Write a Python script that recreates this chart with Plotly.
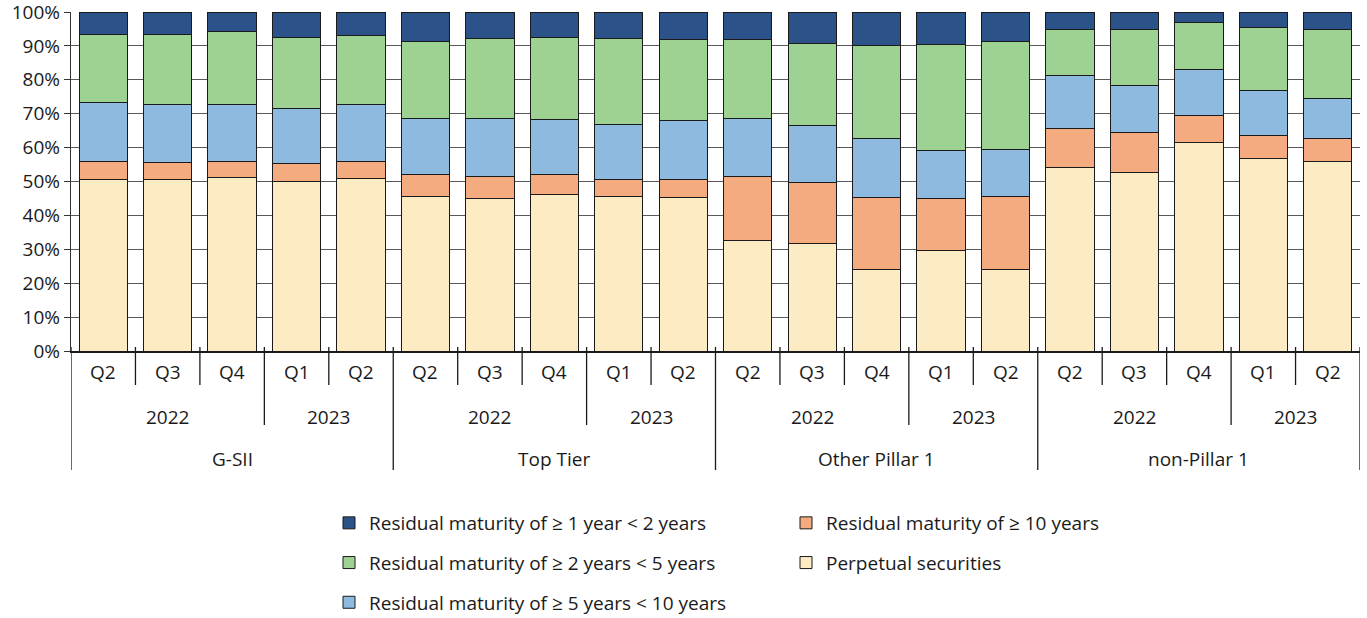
import plotly.graph_objects as go

groups = ["G-SII"] * 5 + ["Top Tier"] * 5 + ["Other Pillar 1"] * 5 + ["non-Pillar 1"] * 5
years = ["2022", "2022", "2022", "2023", "2023"] * 4
quarters = ["Q2", "Q3", "Q4", "Q1", "Q2"] * 4

perpetual = [50.6, 50.5, 51.1, 50.1, 50.9,
             45.7, 45.0, 46.2, 45.6, 45.4,
             32.7, 31.7, 24.0, 29.7, 24.1,
             54.2, 52.7, 61.6, 56.8, 55.8]
ge10 = [5.3, 5.1, 4.8, 5.1, 5.1,
        6.5, 6.5, 6.0, 5.1, 5.3,
        18.8, 18.0, 21.4, 15.4, 21.4,
        11.3, 11.8, 8.0, 6.7, 7.0]
y5_10 = [17.3, 17.1, 16.7, 16.3, 16.7,
         16.3, 17.1, 16.2, 16.2, 17.3,
         17.0, 16.8, 17.3, 14.0, 13.9,
         15.9, 13.7, 13.4, 13.3, 11.7]
y2_5 = [20.1, 20.8, 21.7, 21.0, 20.5,
        22.8, 23.6, 24.0, 25.4, 24.0,
        23.5, 24.1, 27.4, 31.2, 31.8,
        13.4, 16.6, 13.8, 18.5, 20.3]
y1_2 = [6.7, 6.5, 5.7, 7.5, 6.8,
        8.7, 7.8, 7.6, 7.7, 8.0,
        8.0, 9.4, 9.9, 9.7, 8.8,
        5.2, 5.2, 3.2, 4.7, 5.2]

y_ticks = [0, 10, 20, 30, 40, 50, 60, 70, 80, 90, 100]
y_ticktext = [f"{v}%" for v in y_ticks]

# (name, values, colour, legend, legend rank)
series = [
    ("Perpetual securities", perpetual, "#fdecc3", "legend2", 5),
    ("Residual maturity of \u2265 10 years", ge10, "#f4ab80", "legend2", 4),
    ("Residual maturity of \u2265 5 years < 10 years", y5_10, "#8fbae0", "legend", 3),
    ("Residual maturity of \u2265 2 years < 5 years", y2_5, "#9dd293", "legend", 2),
    ("Residual maturity of \u2265 1 year < 2 years", y1_2, "#2b5389", "legend", 1),
]

FONT = "Open Sans"
TXT = "#1a1a1a"
FS = 19
n = len(quarters)
xs = list(range(n))

fig = go.Figure()
for name, vals, col, leg, rank in series:
    fig.add_trace(go.Bar(
        x=xs, y=vals, name=name, legend=leg, legendgroup=name, legendrank=rank,
        marker=dict(color=col, line=dict(color="#1a1a1a", width=1)),
    ))

shapes = []
annotations = []

def px_to_paper(py):
    return (351 - py) / 339.0

yQ_bot = px_to_paper(385)
yY_bot = px_to_paper(425)
yG_bot = px_to_paper(470)
y_top_tick = px_to_paper(347)

line_style = dict(color="#1a1a1a", width=1.3)
for b in range(n + 1):
    xb = b - 0.5
    if b == 0 or b == n or groups[b] != groups[b - 1]:
        y1 = yG_bot
    elif years[b] != years[b - 1]:
        y1 = yY_bot
    else:
        y1 = yQ_bot
    shapes.append(dict(type="line", xref="x", yref="paper", x0=xb, x1=xb,
                       y0=y_top_tick, y1=y1, line=line_style))

lab_font = dict(size=FS, color=TXT, family=FONT)
for i, q in enumerate(quarters):
    annotations.append(dict(x=i, y=px_to_paper(372), xref="x", yref="paper",
                            xanchor="center", yanchor="middle",
                            text=q, showarrow=False, font=lab_font))

start = 0
for i in range(1, n + 1):
    if i == n or years[i] != years[start] or groups[i] != groups[start]:
        annotations.append(dict(x=(start + i - 1) / 2, y=px_to_paper(417), xref="x", yref="paper",
                                xanchor="center", yanchor="middle",
                                text=years[start], showarrow=False, font=lab_font))
        start = i
start = 0
for i in range(1, n + 1):
    if i == n or groups[i] != groups[start]:
        annotations.append(dict(x=(start + i - 1) / 2, y=px_to_paper(459), xref="x", yref="paper",
                                xanchor="center", yanchor="middle",
                                text=groups[start], showarrow=False, font=lab_font))
        start = i

legend_common = dict(
    orientation="v", yanchor="top", xanchor="left",
    font=dict(size=FS, color=TXT, family=FONT),
    bgcolor="rgba(0,0,0,0)", tracegroupgap=12, traceorder="grouped",
)

fig.update_layout(
    width=1367, height=618,
    margin=dict(l=71, r=7, t=12, b=267, autoexpand=False),
    paper_bgcolor="white", plot_bgcolor="white",
    barmode="stack", bargap=0.25,
    font=dict(family=FONT, size=FS, color=TXT),
    showlegend=True,
    legend=dict(x=(329 - 71) / 1289, y=px_to_paper(504), **legend_common),
    legend2=dict(x=(786 - 71) / 1289, y=px_to_paper(504), **legend_common),
    shapes=shapes,
    annotations=annotations,
    xaxis=dict(range=[-0.5, n - 0.5], showticklabels=False, ticks="",
               showgrid=False, zeroline=False, showline=True, automargin=False,
               linecolor="#1a1a1a", linewidth=2, fixedrange=True),
    yaxis=dict(range=[0, 100], tickmode="array", tickvals=y_ticks, ticktext=y_ticktext,
               ticks="outside", automargin=False, ticklabeloverflow="allow",
               ticklen=6, tickcolor="#333333", tickwidth=1.3,
               showgrid=True, gridcolor="#595959", gridwidth=1.3,
               zeroline=False, showline=True, linecolor="#333333", linewidth=1.3,
               tickfont=dict(size=FS, color=TXT, family=FONT), fixedrange=True),
)

fig.write_html("out.html", config={"displayModeBar": False},
               post_script="document.body.style.margin='0';document.body.style.overflow='hidden';")
